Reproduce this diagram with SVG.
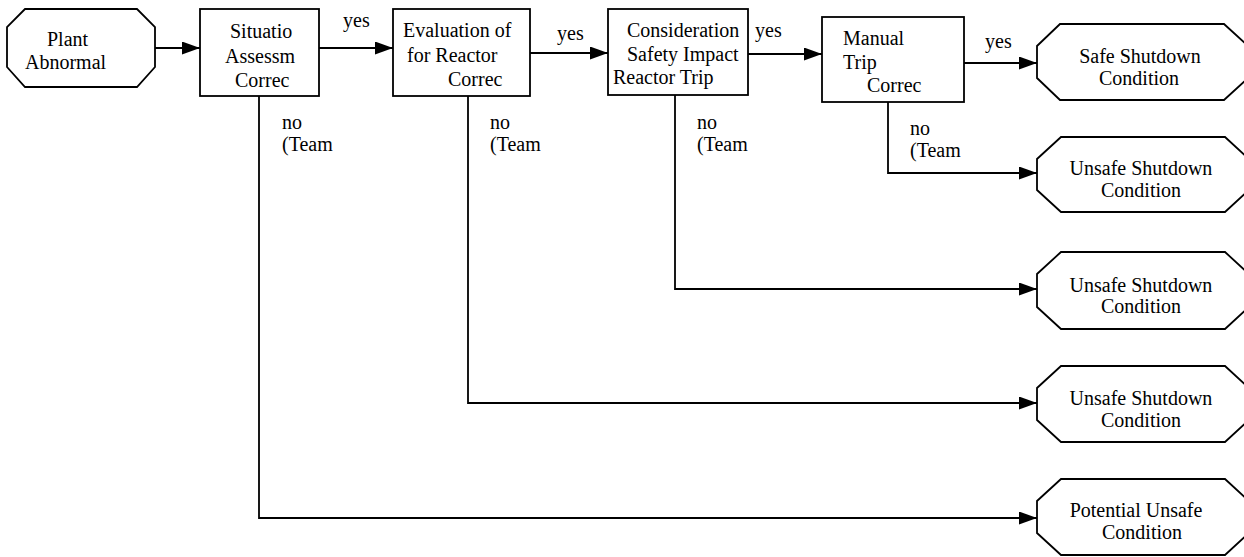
<svg xmlns="http://www.w3.org/2000/svg" width="1244" height="557" viewBox="0 0 1244 557" font-family="'Liberation Serif', 'DejaVu Serif', serif" font-size="20">
<style>
.box{fill:#fff;stroke:#000;stroke-width:1.8}
.ln{fill:none;stroke:#000;stroke-width:1.8}
text{font-family:'Liberation Serif','DejaVu Serif',serif;font-size:20px;fill:#000}
.c{text-anchor:middle}
</style>
<defs>
<marker id="ah" markerUnits="userSpaceOnUse" markerWidth="20" markerHeight="14" refX="18" refY="6.5" orient="auto">
<path d="M0,0 L18,6.5 L0,13 Z" fill="#000"/>
</marker>
</defs>
<rect width="1244" height="557" fill="#fff"/>
<g id="connectors">
<line class="ln" x1="155" y1="48" x2="200" y2="48" marker-end="url(#ah)"/>
<line class="ln" x1="319" y1="48" x2="393" y2="48" marker-end="url(#ah)"/>
<line class="ln" x1="530" y1="53" x2="608" y2="53" marker-end="url(#ah)"/>
<line class="ln" x1="748" y1="54" x2="822" y2="54" marker-end="url(#ah)"/>
<line class="ln" x1="964" y1="63" x2="1037" y2="63" marker-end="url(#ah)"/>
<polyline class="ln" points="888,102 888,173 1037,173" marker-end="url(#ah)"/>
<polyline class="ln" points="675,95 675,289 1037,289" marker-end="url(#ah)"/>
<polyline class="ln" points="468,96 468,403 1037,403" marker-end="url(#ah)"/>
<polyline class="ln" points="259,96 259,518 1037,518" marker-end="url(#ah)"/>
<text x="343" y="27">yes</text>
<text x="557" y="40">yes</text>
<text x="755" y="37">yes</text>
<text x="985" y="48">yes</text>
<text x="282" y="129">no</text>
<text x="282" y="151">(Team</text>
<text x="490" y="129">no</text>
<text x="490" y="151">(Team</text>
<text x="697" y="129">no</text>
<text x="697" y="151">(Team</text>
<text x="910" y="135">no</text>
<text x="910" y="157">(Team</text>
</g>
<g id="plant">
<polygon class="box" points="25,9 137,9 155,27 155,67 137,87 25,87 7,67 7,27"/>
<text x="47" y="46">Plant</text>
<text x="25" y="69">Abnormal</text>
</g>
<g id="situation">
<rect class="box" x="200" y="9" width="119" height="87"/>
<text x="230" y="38">Situatio</text>
<text x="225" y="63">Assessm</text>
<text x="235" y="87">Correc</text>
</g>
<g id="evaluation">
<rect class="box" x="393" y="9" width="137" height="87"/>
<text x="403" y="37">Evaluation of</text>
<text x="407" y="62">for Reactor</text>
<text x="448" y="86">Correc</text>
</g>
<g id="consideration">
<rect class="box" x="608" y="9" width="140" height="86"/>
<text x="627" y="37">Consideration</text>
<text x="627" y="61">Safety Impact</text>
<text x="613" y="84">Reactor Trip</text>
</g>
<g id="manual">
<rect class="box" x="822" y="17" width="142" height="85"/>
<text x="843" y="45">Manual</text>
<text x="843" y="69">Trip</text>
<text x="867" y="92">Correc</text>
</g>
<g id="safe">
<polygon class="box" points="1060,24 1224,24 1248,46 1248,78 1224,100 1060,100 1037,78 1037,46"/>
<text class="c" x="1140" y="63">Safe Shutdown</text>
<text class="c" x="1139" y="85">Condition</text>
</g>
<g id="unsafe1">
<polygon class="box" points="1061,137 1225,137 1249,159 1249,190 1225,212 1061,212 1037,190 1037,159"/>
<text class="c" x="1141" y="175">Unsafe Shutdown</text>
<text class="c" x="1141" y="197">Condition</text>
</g>
<g id="unsafe2">
<polygon class="box" points="1061,252 1225,252 1249,274 1249,307 1225,329 1061,329 1037,307 1037,274"/>
<text class="c" x="1141" y="292">Unsafe Shutdown</text>
<text class="c" x="1141" y="313">Condition</text>
</g>
<g id="unsafe3">
<polygon class="box" points="1061,366 1225,366 1249,388 1249,420 1225,442 1061,442 1037,420 1037,388"/>
<text class="c" x="1141" y="405">Unsafe Shutdown</text>
<text class="c" x="1141" y="427">Condition</text>
</g>
<g id="potential">
<polygon class="box" points="1061,479 1225,479 1249,501 1249,533 1225,555 1061,555 1037,533 1037,501"/>
<text class="c" x="1136" y="517">Potential Unsafe</text>
<text class="c" x="1142" y="539">Condition</text>
</g>
</svg>
